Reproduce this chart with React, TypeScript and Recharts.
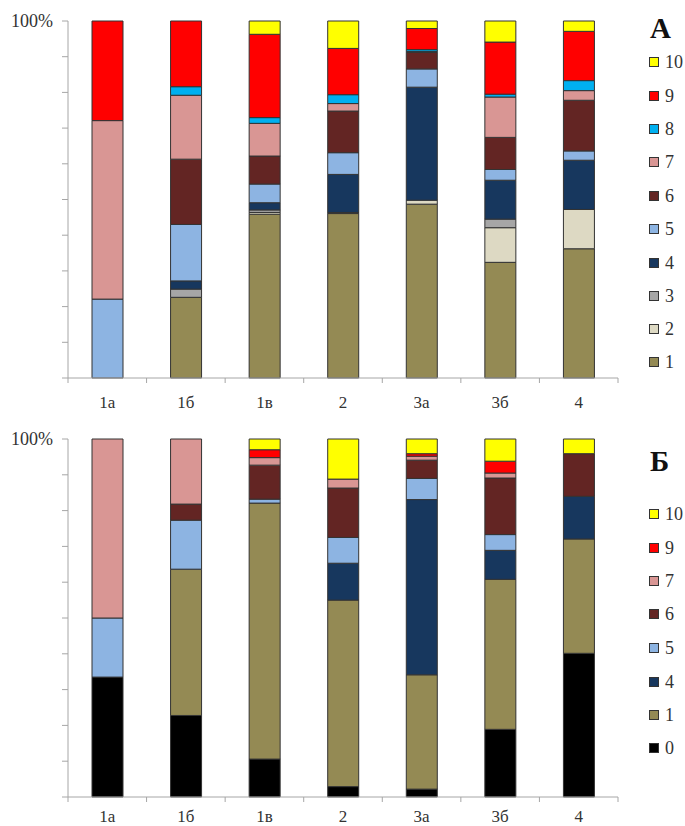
import { BarChart, Bar, XAxis, YAxis } from 'recharts';

const groups = ['1а', '1б', '1в', '2', '3а', '3б', '4'];

// panel А, share of each class per group (bottom to top)
const a1 = [0, 22.6, 45.6, 46.2, 48.6, 32.4, 36.2];
const a2 = [0, 0, 0.5, 0, 1.1, 9.7, 11.0];
const a3 = [0, 2.3, 0.7, 0.3, 0, 2.4, 0];
const a4 = [0, 2.3, 2.0, 10.7, 31.6, 10.9, 13.8];
const a5 = [22.1, 15.8, 5.2, 6.1, 5.1, 3.0, 2.6];
const a6 = [0, 18.3, 7.8, 11.7, 4.6, 9.0, 14.2];
const a7 = [50.0, 17.9, 9.1, 2.1, 0.3, 11.3, 2.7];
const a8 = [0, 2.4, 1.6, 2.5, 0.5, 0.8, 2.8];
const a9 = [27.9, 18.4, 23.2, 13.0, 5.9, 14.6, 13.8];
const a10 = [0, 0, 3.7, 7.7, 2.1, 5.9, 2.9];

// panel Б
const b0 = [33.5, 22.8, 10.6, 2.9, 2.2, 18.9, 40.1];
const b1 = [0, 40.9, 71.5, 52.1, 31.9, 41.9, 31.9];
const b4 = [0, 0, 0, 10.3, 48.9, 8.1, 11.9];
const b5 = [16.5, 13.7, 1.1, 7.2, 5.9, 4.4, 0];
const b6 = [0, 4.5, 9.5, 13.8, 5.1, 15.8, 11.9];
const b7 = [50.0, 18.2, 2.1, 2.5, 1.1, 1.4, 0];
const b9 = [0, 0, 2.2, 0, 0.7, 3.3, 0];
const b10 = [0, 0, 3.0, 11.2, 4.1, 6.2, 4.1];

const yTicks = [0, 0.1, 0.2, 0.3, 0.4, 0.5, 0.6, 0.7, 0.8, 0.9, 1];

const colors: Record<string, string> = {
  '0': '#000000',
  '1': '#948A54',
  '2': '#DDD9C3',
  '3': '#A6A6A6',
  '4': '#17375E',
  '5': '#8DB4E2',
  '6': '#632523',
  '7': '#D99694',
  '8': '#00B0F0',
  '9': '#FF0000',
  '10': '#FFFF00',
};

const seriesA: [string, number[]][] = [
  ['1', a1], ['2', a2], ['3', a3], ['4', a4], ['5', a5],
  ['6', a6], ['7', a7], ['8', a8], ['9', a9], ['10', a10],
];
const seriesB: [string, number[]][] = [
  ['0', b0], ['1', b1], ['4', b4], ['5', b5], ['6', b6], ['7', b7], ['9', b9], ['10', b10],
];

const toRows = (series: [string, number[]][]) =>
  groups.map((g, i) => {
    const row: Record<string, string | number> = { g };
    series.forEach(([k, vals]) => { row['s' + k] = vals[i]; });
    return row;
  });

const dataA = toRows(seriesA);
const dataB = toRows(seriesB);

const FONT = "'Liberation Serif', 'DejaVu Serif', serif";
const AXIS = '#a6a6a6';
const band = 550 / groups.length;

const GroupTick = (props: any) => {
  const { x, y, payload, index, gap } = props;
  return (
    <g>
      <line x1={x - band / 2} x2={x - band / 2} y1={y} y2={y + 5} stroke={AXIS} />
      {index === groups.length - 1 && (
        <line x1={x + band / 2} x2={x + band / 2} y1={y} y2={y + 5} stroke={AXIS} />
      )}
      <text x={x} y={y + gap} dy="0.35em" textAnchor="middle" fontSize={17} fill="#333" fontFamily={FONT}>
        {payload.value}
      </text>
    </g>
  );
};

const Panel = ({ data, series, height, top, xHeight, gap }: any) => (
  <BarChart
    width={685}
    height={height}
    data={data}
    stackOffset="expand"
    barSize={31}
    margin={{ top, right: 67, left: 0, bottom: 0 }}
  >
    <XAxis
      dataKey="g"
      height={xHeight}
      interval={0}
      tickLine={false}
      tickSize={0}
      tickMargin={0}
      axisLine={{ stroke: AXIS }}
      tick={<GroupTick gap={gap} />}
    />
    <YAxis
      width={68}
      domain={[0, 1]}
      ticks={yTicks}
      interval={0}
      tickSize={6}
      tickMargin={9}
      axisLine={{ stroke: AXIS }}
      tickLine={{ stroke: AXIS }}
      tick={{ fontSize: 18, fill: '#333', fontFamily: FONT }}
      tickFormatter={(v: number) => (v === 1 ? '100%' : '')}
    />
    {series.map(([k]: [string, number[]]) => (
      <Bar
        key={k}
        dataKey={'s' + k}
        stackId="x"
        fill={colors[k]}
        stroke="#333"
        strokeWidth={1}
        isAnimationActive={false}
      />
    ))}
  </BarChart>
);

const Legend = ({ letter, keys, letterTop, rowTops }: any) => (
  <>
    <div style={{ position: 'absolute', left: 650, top: letterTop, fontSize: 29, fontWeight: 'bold', lineHeight: '29px', fontFamily: FONT, color: '#111' }}>
      {letter}
    </div>
    {keys.map((k: string, i: number) => (
      <div key={k} style={{ position: 'absolute', left: 649, top: rowTops[i] - 10, height: 20, display: 'flex', alignItems: 'center', fontFamily: FONT, fontSize: 18, color: '#333' }}>
        <span style={{ display: 'inline-block', width: 8, height: 8, background: colors[k], border: '1px solid #333', marginRight: 6 }} />
        {k}
      </div>
    ))}
  </>
);

const rowsA = [62, 96, 129, 162, 196, 229, 263, 296, 329, 362];
const rowsB = [514, 548, 581, 614, 648, 682, 715, 748];

export default function App() {
  return (
    <div style={{ position: 'absolute', left: 0, top: 0, width: 685, height: 826, background: '#fff', overflow: 'hidden' }}>
      <div style={{ position: 'absolute', left: 0, top: 0 }}>
        <Panel data={dataA} series={seriesA} height={420} top={21} xHeight={42} gap={24} />
      </div>
      <div style={{ position: 'absolute', left: 0, top: 410 }}>
        <Panel data={dataB} series={seriesB} height={416} top={29} xHeight={29} gap={19} />
      </div>
      <Legend letter="А" keys={seriesA.map(s => s[0]).reverse()} letterTop={14} rowTops={rowsA} />
      <Legend letter="Б" keys={seriesB.map(s => s[0]).reverse()} letterTop={447} rowTops={rowsB} />
    </div>
  );
}
